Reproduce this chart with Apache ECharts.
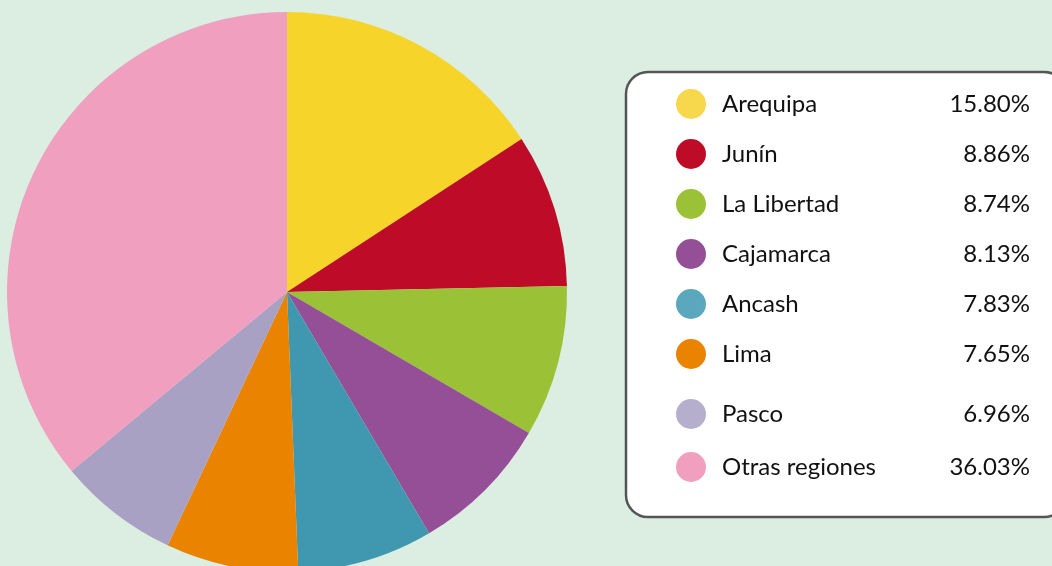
<!DOCTYPE html>
<html>
<head>
<meta charset="utf-8">
<title>Regiones</title>
<script src="https://cdn.jsdelivr.net/npm/echarts@6/dist/echarts.min.js"></script>
<style>
  html, body { margin: 0; padding: 0; background: #dcede2; }
  #chart { width: 1052px; height: 566px; }
</style>
</head>
<body>
<div id="chart"></div>
<script>
// datos
var regiones = ['Arequipa', 'Junín', 'La Libertad', 'Cajamarca', 'Ancash', 'Lima', 'Pasco', 'Otras regiones'];
var porcentajes = [15.80, 8.86, 8.74, 8.13, 7.83, 7.65, 6.96, 36.03];
var colores = ['#f7d42a', '#be0c28', '#9bc236', '#944f96', '#4098b0', '#ea8300', '#a8a1c4', '#f09fbe'];
var coloresLeyenda = ['#f7d84c', '#be0c28', '#9bc236', '#944f96', '#5ba8be', '#ea8300', '#b5aecc', '#f09fbe'];

var chart = echarts.init(document.getElementById('chart'));

var pieData = regiones.map(function (n, i) {
  return { name: n, value: porcentajes[i], itemStyle: { color: colores[i] } };
});

function legendItems(from, to) {
  var out = [];
  for (var i = from; i < to; i++) {
    out.push({ name: regiones[i], itemStyle: { color: coloresLeyenda[i] } });
  }
  return out;
}

function fmt(name) {
  var i = regiones.indexOf(name);
  return '{n|' + name + '}{v|' + porcentajes[i].toFixed(2) + '%}';
}

var richText = {
  n: { width: 208, padding: [0, 0, 0, 11], fontSize: 24, color: '#111', fontFamily: 'Lato' },
  v: { width: 100, align: 'right', fontSize: 24, color: '#111', fontFamily: 'Lato' }
};

var legendBase = {
  left: 671,
  orient: 'vertical',
  icon: 'circle',
  itemWidth: 30,
  itemHeight: 30,
  selectedMode: false,
  formatter: fmt,
  textStyle: { rich: richText }
};

var option = {
  backgroundColor: '#dcede2',
  animation: false,
  graphic: [{
    type: 'rect',
    shape: { x: 626, y: 72, width: 440, height: 445, r: 22 },
    style: { fill: '#ffffff', stroke: '#555555', lineWidth: 2.5 },
    z: -1
  }],
  legend: [
    Object.assign({}, legendBase, { top: 84, itemGap: 20, data: legendItems(0, 6) }),
    Object.assign({}, legendBase, { top: 394, itemGap: 23, data: legendItems(6, 8) })
  ],
  series: [{
    type: 'pie',
    center: [287, 292],
    radius: 280,
    startAngle: 90,
    clockwise: true,
    label: { show: false },
    labelLine: { show: false },
    emphasis: { disabled: true },
    itemStyle: { borderWidth: 0 },
    data: pieData
  }]
};

chart.setOption(option);
</script>
</body>
</html>
